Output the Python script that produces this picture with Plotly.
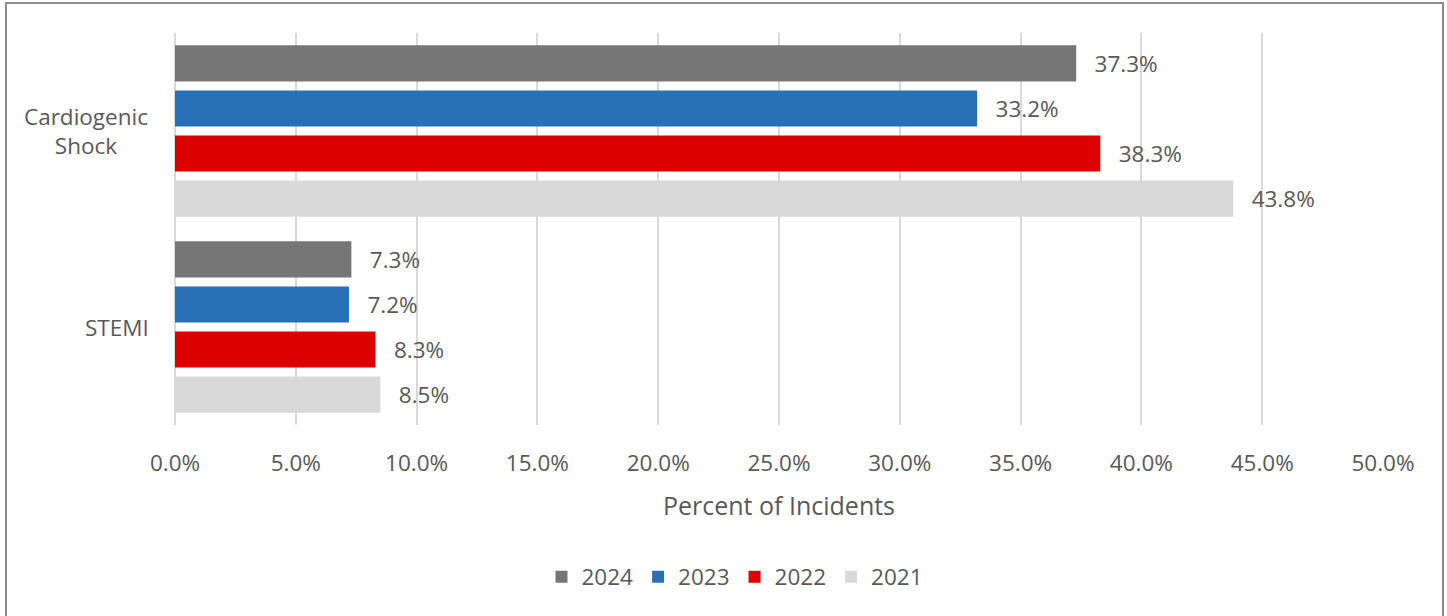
import plotly.graph_objects as go

# Incident categories and yearly shares (percent of incidents)
categories = ["Cardiogenic Shock", "STEMI"]
years = ["2024", "2023", "2022", "2021"]
values = {
    "2024": [37.3, 7.3],
    "2023": [33.2, 7.2],
    "2022": [38.3, 8.3],
    "2021": [43.8, 8.5],
}
colors = {"2024": "#767676", "2023": "#2870b5", "2022": "#dc0000", "2021": "#d9d9d9"}
x_ticks = [0, 5, 10, 15, 20, 25, 30, 35, 40, 45, 50]
category_labels = {"Cardiogenic Shock": "Cardiogenic<br>Shock", "STEMI": "STEMI"}

FONT = "Open Sans"
TEXT = "#595959"
FS = 22.5

W, H = 1447, 616
ML, MR, MT, MB = 175, 64, 33, 191
PW, PH = W - ML - MR, H - MT - MB

fig = go.Figure()
# Plotly stacks grouped horizontal bars bottom-up, so add the oldest year first
for yr in reversed(years):
    fig.add_trace(go.Bar(
        name=yr,
        orientation="h",
        y=categories,
        x=values[yr],
        marker=dict(color=colors[yr], line=dict(width=0)),
        text=[f"  \u2009{v:.1f}%" for v in values[yr]],
        textposition="outside",
        textfont=dict(family=FONT, size=FS, color=TEXT),
        cliponaxis=False,
        hoverinfo="x+name",
    ))

# Category labels: right-aligned block, multi-line text centred within it
for cat in categories:
    multi = "<br>" in category_labels[cat]
    fig.add_annotation(
        x=((86 if multi else 151) - ML) / PW, xref="paper", y=cat, yref="y",
        text=category_labels[cat], showarrow=False,
        xanchor="center" if multi else "right", yanchor="middle", align="center",
        font=dict(family=FONT, size=FS, color=TEXT),
    )

# Outer chart border
fig.add_shape(
    type="rect", xref="paper", yref="paper",
    x0=(6 - ML) / PW, x1=(1443 - ML) / PW,
    y0=-(H + 5 - MT - PH) / PH, y1=1 + (MT - 3) / PH,
    line=dict(color="#8c8c8c", width=2), fillcolor="rgba(0,0,0,0)", layer="below",
)

fig.update_layout(
    width=W, height=H,
    margin=dict(l=ML, r=MR, t=MT, b=MB, pad=0),
    paper_bgcolor="white", plot_bgcolor="white",
    barmode="group", bargap=0.08, bargroupgap=0.2,
    font=dict(family=FONT, color=TEXT, size=FS),
    showlegend=True,
    legend=dict(
        orientation="h", traceorder="reversed",
        x=(735 - ML) / PW, xanchor="center", y=-(577 - (H - MB)) / PH, yanchor="middle",
        font=dict(family=FONT, size=FS, color=TEXT),
        itemwidth=30, itemsizing="constant",
    ),
    xaxis=dict(
        range=[0, 50], tickvals=x_ticks,
        ticktext=[f"{t:.1f}%" for t in x_ticks],
        showgrid=True, gridcolor="#d9d9d9", gridwidth=2,
        zeroline=True, zerolinecolor="#d9d9d9", zerolinewidth=2,
        showline=False, ticks="", ticklabelstandoff=22,
        tickfont=dict(family=FONT, size=FS, color=TEXT),
        title=dict(text="Percent of Incidents", standoff=20,
                   font=dict(family=FONT, size=25, color=TEXT)),
        fixedrange=True,
    ),
    yaxis=dict(
        categoryorder="array", categoryarray=list(reversed(categories)),
        showticklabels=False, showgrid=False, zeroline=False, ticks="",
        fixedrange=True,
    ),
)

fig.write_html("out.html")
